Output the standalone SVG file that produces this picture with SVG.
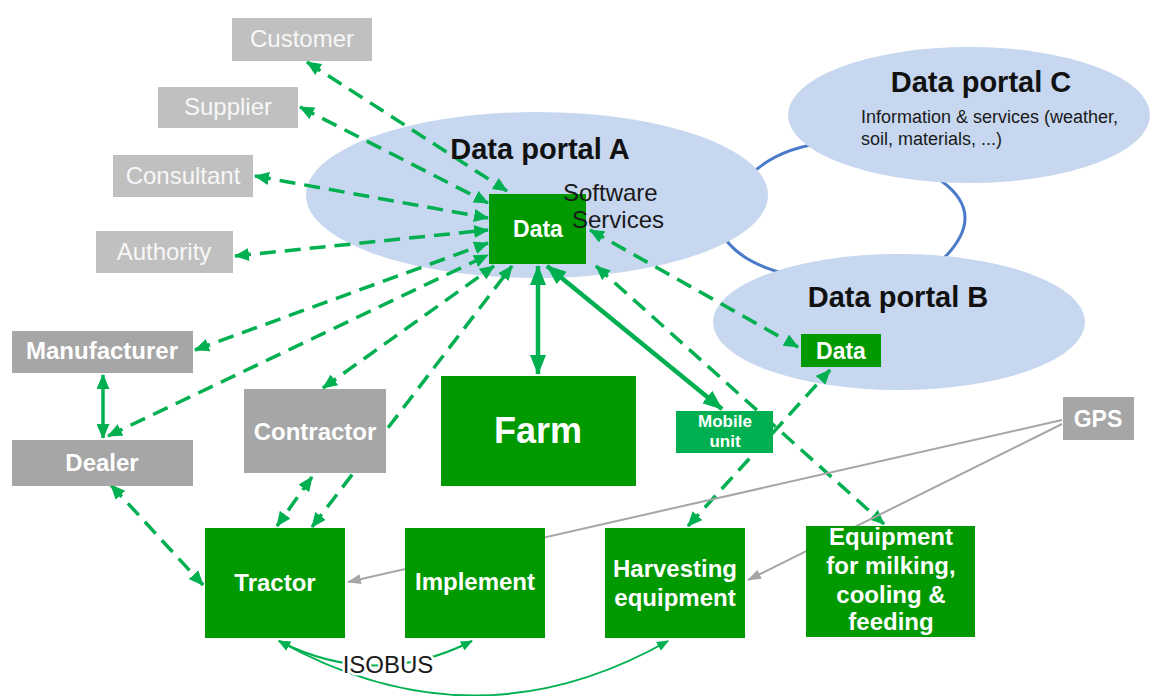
<svg xmlns="http://www.w3.org/2000/svg" width="1150" height="696" viewBox="0 0 1150 696">
<style>
text { font-family: "Liberation Sans", Arial, sans-serif; }
.portal { fill: #c6d7ef; }
.arc { fill: none; stroke: #4a7ac9; stroke-width: 3; }
.dash { fill: none; stroke: #00b050; stroke-width: 3.5; stroke-dasharray: 16 9; }
.solid { fill: none; stroke: #00b050; stroke-width: 3.5; }
.thick { fill: none; stroke: #00b050; stroke-width: 4.5; }
.gps { fill: none; stroke: #a6a6a6; stroke-width: 2; }
.bus { fill: none; stroke: #00b050; stroke-width: 2; }
.bg { fill: #009900; }
.bm { fill: #00b050; }
.bl { fill: #c0c0c0; }
.bd { fill: #a6a6a6; }
.tl { font-size: 24px; fill: #f7f7f7; text-anchor: middle; }
.tw { font-size: 24px; font-weight: bold; fill: #ffffff; text-anchor: middle; }
.title { font-size: 29px; font-weight: bold; fill: #111111; text-anchor: middle; }
.sub { font-size: 24px; fill: #1a1a1a; }
.info { font-size: 18px; fill: #1a1a1a; }
</style>
<defs>
<marker id="ah" viewBox="0 0 15 13" refX="14" refY="6.5" markerWidth="15" markerHeight="13" markerUnits="userSpaceOnUse" orient="auto-start-reverse"><path d="M0,0 L15,6.5 L0,13 z" fill="#00b050"/></marker>
<marker id="ahT" viewBox="0 0 20 16" refX="19" refY="8" markerWidth="20" markerHeight="16" markerUnits="userSpaceOnUse" orient="auto-start-reverse"><path d="M0,0 L20,8 L0,16 z" fill="#00b050"/></marker>
<marker id="ahG" viewBox="0 0 14 10" refX="13" refY="5" markerWidth="14" markerHeight="10" markerUnits="userSpaceOnUse" orient="auto-start-reverse"><path d="M0,0 L14,5 L0,10 z" fill="#a6a6a6"/></marker>
<marker id="ahS" viewBox="0 0 12 10" refX="11" refY="5" markerWidth="12" markerHeight="10" markerUnits="userSpaceOnUse" orient="auto-start-reverse"><path d="M0,0 L12,5 L0,10 z" fill="#00b050"/></marker>
</defs>
<rect width="1150" height="696" fill="#ffffff"/>

<g id="portal-links">
<path class="arc" d="M745 180 Q775 148 825 143"/>
<path class="arc" d="M940 180 Q990 215 940 262"/>
<path class="arc" d="M720 230 Q735 262 790 275"/>
</g>
<g id="portal-a"><ellipse class="portal" cx="537" cy="195" rx="231" ry="83"/></g>
<g id="portal-c"><ellipse class="portal" cx="969" cy="115" rx="181" ry="68"/></g>
<g id="portal-b"><ellipse class="portal" cx="899" cy="322" rx="186" ry="68"/></g>

<g id="connectors">
<path class="dash" d="M307 62 L507 191" marker-start="url(#ah)" marker-end="url(#ah)"/>
<path class="dash" d="M300 107 L488 203" marker-start="url(#ah)" marker-end="url(#ah)"/>
<path class="dash" d="M255 176 L488 218" marker-start="url(#ah)" marker-end="url(#ah)"/>
<path class="dash" d="M235 256 L488 230" marker-start="url(#ah)" marker-end="url(#ah)"/>
<path class="dash" d="M195 350 L488 243" marker-start="url(#ah)" marker-end="url(#ah)"/>
<path class="dash" d="M108 436 L488 255" marker-start="url(#ah)" marker-end="url(#ah)"/>
<path class="dash" d="M323 388 L494 266" marker-start="url(#ah)" marker-end="url(#ah)"/>
<path class="dash" d="M312 527 L512 266" marker-start="url(#ah)" marker-end="url(#ah)"/>
<path class="solid" d="M103 375 L103 438" marker-start="url(#ah)" marker-end="url(#ah)"/>
<path class="dash" d="M111 485 L203 585" marker-start="url(#ah)" marker-end="url(#ah)"/>
<path class="dash" d="M312 477 L277 526" marker-start="url(#ah)" marker-end="url(#ah)"/>
<path class="thick" d="M538 266 L538 374" marker-start="url(#ahT)" marker-end="url(#ahT)"/>
<path class="thick" d="M547 266 L722 409" marker-start="url(#ahT)" marker-end="url(#ahT)"/>
<path class="dash" d="M590 230 L798 347" marker-start="url(#ah)" marker-end="url(#ah)"/>
<path class="dash" d="M596 266 L884 524" marker-start="url(#ah)" marker-end="url(#ah)"/>
<path class="dash" d="M688 526 L830 370" marker-start="url(#ah)" marker-end="url(#ah)"/>
<path class="gps" d="M1062 420 L348 582" marker-end="url(#ahG)"/>
<path class="gps" d="M1062 424 L748 580" marker-end="url(#ahG)"/>
<path class="bus" d="M279 641 Q375 690 472 641" marker-start="url(#ahS)" marker-end="url(#ahS)"/>
<path class="bus" d="M279 641 Q475 750 668 641" marker-start="url(#ahS)" marker-end="url(#ahS)"/>
</g>

<g id="customer"><rect class="bl" x="232" y="18" width="140" height="43"/><text class="tl" x="302" y="47">Customer</text></g>
<g id="supplier"><rect class="bl" x="158" y="87" width="140" height="41"/><text class="tl" x="228" y="115">Supplier</text></g>
<g id="consultant"><rect class="bl" x="113" y="155" width="140" height="42"/><text class="tl" x="183" y="184">Consultant</text></g>
<g id="authority"><rect class="bl" x="96" y="231" width="137" height="42"/><text class="tl" x="164" y="260">Authority</text></g>
<g id="manufacturer"><rect class="bd" x="12" y="331" width="181" height="42"/><text class="tw" x="102" y="359">Manufacturer</text></g>
<g id="dealer"><rect class="bd" x="12" y="440" width="181" height="46"/><text class="tw" x="102" y="471">Dealer</text></g>
<g id="contractor"><rect class="bd" x="244" y="389" width="142" height="84"/><text class="tw" x="315" y="440">Contractor</text></g>
<g id="gps"><rect class="bd" x="1063" y="397" width="71" height="43"/><text class="tw" x="1098" y="427" style="font-size:23px">GPS</text></g>

<g id="data-a"><rect class="bg" x="489" y="194" width="97" height="70"/><text class="tw" x="538" y="237" style="font-size:23px">Data</text></g>
<g id="data-b"><rect class="bg" x="801" y="334" width="80" height="33"/><text class="tw" x="841" y="359" style="font-size:23px">Data</text></g>
<g id="farm"><rect class="bg" x="441" y="376" width="195" height="110"/><text class="tw" x="538" y="443" style="font-size:36px">Farm</text></g>
<g id="mobile-unit"><rect class="bm" x="676" y="411" width="97" height="42"/><text class="tw" x="725" y="427" style="font-size:17px">Mobile</text><text class="tw" x="725" y="447" style="font-size:17px">unit</text></g>
<g id="tractor"><rect class="bg" x="205" y="528" width="140" height="110"/><text class="tw" x="275" y="591">Tractor</text></g>
<g id="implement"><rect class="bg" x="405" y="528" width="140" height="110"/><text class="tw" x="475" y="590">Implement</text></g>
<g id="harvesting"><rect class="bg" x="605" y="528" width="140" height="110"/><text class="tw" x="675" y="577">Harvesting</text><text class="tw" x="675" y="606">equipment</text></g>
<g id="equipment"><rect class="bg" x="806" y="526" width="169" height="111"/><text class="tw" x="891" y="545">Equipment</text><text class="tw" x="891" y="574">for milking,</text><text class="tw" x="891" y="603">cooling &amp;</text><text class="tw" x="891" y="630">feeding</text></g>

<g id="portal-a-label"><text class="title" x="540" y="159">Data portal A</text><text class="sub" x="563" y="201">Software</text><text class="sub" x="572" y="228">Services</text></g>
<g id="portal-c-label"><text class="title" x="981" y="92">Data portal C</text><text class="info" x="861" y="123">Information &amp; services (weather,</text><text class="info" x="861" y="145">soil, materials, ...)</text></g>
<g id="portal-b-label"><text class="title" x="898" y="307">Data portal B</text></g>
<g id="isobus-label"><text x="388" y="673" style="font-size:24px;fill:#1a1a1a;text-anchor:middle;paint-order:stroke;stroke:#ffffff;stroke-width:5px">ISOBUS</text></g>
</svg>
